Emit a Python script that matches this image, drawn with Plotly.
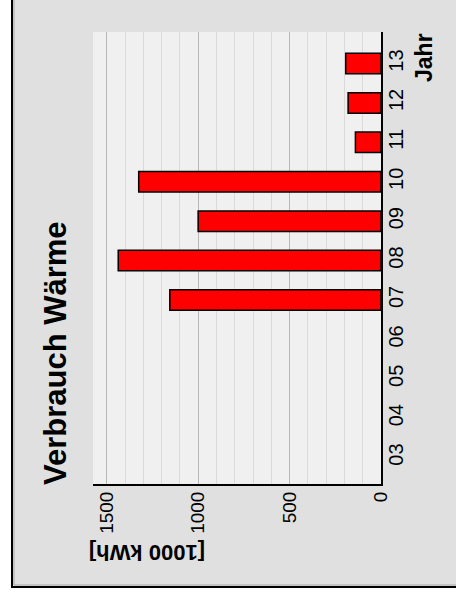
import plotly.graph_objects as go

# Heat consumption per year, in 1000 kWh
jahre = ["03", "04", "05", "06", "07", "08", "09", "10", "11", "12", "13"]
verbrauch = [None, None, None, None, 1155, 1437, 1000, 1325, 140, 180, 193]
wert_ticks = [0, 500, 1000, 1500]

W, H = 456, 600
L, R, T, B = 93, 381, 32, 484  # plot area in pixels


def px_x(p):
    return (p - L) / (R - L)


def px_y(p):
    return (B - p) / (B - T)


font = "Liberation Sans"

fig = go.Figure(
    go.Bar(
        y=jahre,
        x=verbrauch,
        orientation="h",
        width=0.52,
        marker=dict(color="#ff0000", line=dict(color="#000000", width=1.5)),
        hoverinfo="x+y",
    )
)

fig.update_layout(
    width=W,
    height=H,
    margin=dict(l=L, r=W - R, t=T, b=H - B, pad=0),
    paper_bgcolor="#e0e0e0",
    plot_bgcolor="#f0f0f0",
    showlegend=False,
    font=dict(family=font, color="#000000", size=20),
)

fig.update_xaxes(
    range=[1575, 0],
    tickvals=wert_ticks,
    ticktext=[str(v) for v in wert_ticks],
    tickangle=-90,
    tickfont=dict(family=font, size=19),
    ticks="",
    ticklabelstandoff=-2,
    showgrid=True,
    gridcolor="#b8b8b8",
    gridwidth=1,
    minor=dict(dtick=100, showgrid=True, gridcolor="#dadada", gridwidth=1),
    zeroline=False,
    showline=True,
    linecolor="#000000",
    linewidth=2,
)

fig.update_yaxes(
    type="category",
    categoryorder="array",
    categoryarray=jahre,
    range=[-0.67, 10.8],
    side="right",
    tickangle=-90,
    tickfont=dict(family=font, size=20),
    ticks="",
    ticklabelstandoff=-4,
    showgrid=False,
    zeroline=False,
    showline=True,
    linecolor="#000000",
    linewidth=2,
)

annotations = [
    dict(text="<b>Verbrauch Wärme</b>", x=px_x(55), y=px_y(353), textangle=-90,
         font=dict(family=font, size=31)),
    dict(text="<b>Jahr</b>", x=px_x(424), y=px_y(58), textangle=-90,
         font=dict(family=font, size=23)),
    dict(text="<b>[1000 kWh]</b>", x=px_x(147), y=px_y(553), textangle=180,
         font=dict(family=font, size=22)),
]
for a in annotations:
    a.update(xref="paper", yref="paper", showarrow=False,
             xanchor="center", yanchor="middle")
fig.update_layout(annotations=annotations)

# White surround with the black frame edge on the left and at the bottom
x_left, x_right = px_x(0), px_x(W)
y_top, y_bot = px_y(0), px_y(H)
shapes = [
    dict(type="rect", x0=x_left, x1=px_x(11), y0=y_bot, y1=y_top,
         fillcolor="#ffffff", line=dict(width=0)),
    dict(type="rect", x0=x_left, x1=x_right, y0=y_bot, y1=px_y(588),
         fillcolor="#ffffff", line=dict(width=0)),
    dict(type="line", x0=px_x(14), x1=px_x(14), y0=px_y(585), y1=y_top,
         line=dict(color="#a8a8a8", width=1)),
    dict(type="line", x0=px_x(14), x1=x_right, y0=px_y(585), y1=px_y(585),
         line=dict(color="#a8a8a8", width=1)),
    dict(type="line", x0=px_x(12), x1=px_x(12), y0=px_y(587), y1=y_top,
         line=dict(color="#000000", width=2)),
    dict(type="line", x0=px_x(11), x1=x_right, y0=px_y(587), y1=px_y(587),
         line=dict(color="#000000", width=2)),
]
for s in shapes:
    s.update(xref="paper", yref="paper")
fig.update_layout(shapes=shapes)

fig.write_html("out.html")
